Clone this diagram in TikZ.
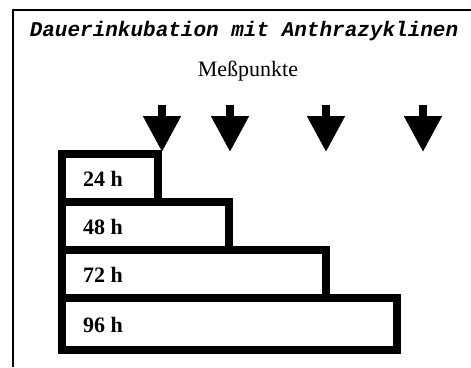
\documentclass[tikz,border=0pt]{standalone}
\usepackage{fontspec}
\setmainfont{Liberation Serif}
\newfontfamily\typewriter{Liberation Mono}
\usetikzlibrary{arrows.meta}

\begin{document}
\begin{tikzpicture}[x=1pt,y=-1pt,
    stage/.style={line width=8pt},
    marker/.style={line width=8pt, -{Triangle[width=36pt,length=36pt]}},
    hours/.style={anchor=base west, inner sep=0pt,
      font=\fontsize{22}{26}\selectfont\bfseries}
  ]
    \useasboundingbox (0,0) rectangle (471,367);

    % open frame, top and left only
    \draw[line width=2.5pt] (13,367) -- (13,10) -- (471,10);

    \node[anchor=base, inner sep=0pt,
      font=\typewriter\fontsize{21}{24}\selectfont\bfseries\itshape]
      (title) at (244,36) {Dauerinkubation mit Anthrazyklinen};
    \node[anchor=base, inner sep=0pt, font=\fontsize{22}{26}\selectfont]
      (mess) at (248,76) {Meßpunkte};

    % measuring points
    \foreach \x/\n in {162/1, 230/2, 326/3, 423/4} {
        \coordinate (top\n) at (\x,105);
        \coordinate (tip\n) at (\x,152);
        \draw[marker] (top\n) -- (tip\n);
    }

    % incubation periods
    \draw[stage] (61.5,154) rectangle (158,202);
    \draw[stage] (61.5,202) rectangle (229,250);
    \draw[stage] (61.5,250) rectangle (325.5,298);
    \draw[stage] (61.5,298) rectangle (397,349.5);

    \node[hours] (h24) at (83,186) {24 h};
    \node[hours] (h48) at (83,234) {48 h};
    \node[hours] (h72) at (83,282) {72 h};
    \node[hours] (h96) at (83,332) {96 h};

\end{tikzpicture}
\end{document}
